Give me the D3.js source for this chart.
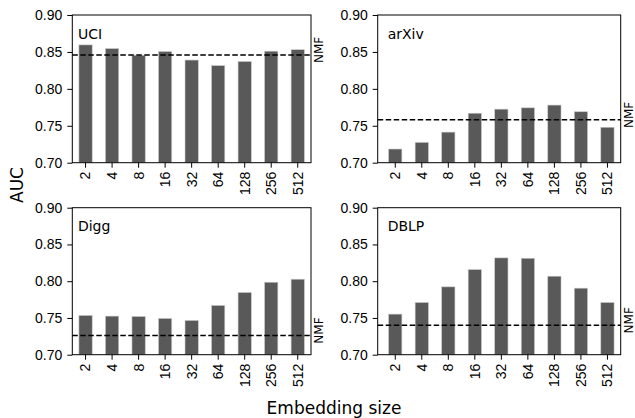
<!DOCTYPE html>
<html lang="en">
<head>
    <meta charset="UTF-8">
    <title>AUC vs embedding size</title>
    <style>
        body { margin: 0; background: #fff; }
        svg { font-family: "DejaVu Sans", sans-serif; }
        .axis text { font-size: 14px; fill: #000; }
        .axis line, .axis path { stroke: #000; stroke-width: 1; }
    </style>
</head>
<body>
    <div id="graphic"></div>

    <script src="https://cdn.jsdelivr.net/npm/d3@7"></script>
    <script>
        // data
        var sizes = ["2", "4", "8", "16", "32", "64", "128", "256", "512"];
        var datasets = ["UCI", "arXiv", "Digg", "DBLP"];
        var uciAUC = [0.8595, 0.8545, 0.8455, 0.8505, 0.839, 0.8315, 0.837, 0.851, 0.853];
        var arxivAUC = [0.7185, 0.7275, 0.7414, 0.767, 0.7725, 0.7743, 0.778, 0.769, 0.748];
        var diggAUC = [0.7534, 0.7525, 0.752, 0.7493, 0.7466, 0.767, 0.7846, 0.7986, 0.8027];
        var dblpAUC = [0.7552, 0.771, 0.7923, 0.8158, 0.8317, 0.8312, 0.8068, 0.7905, 0.771];
        var nmfAUC = [0.846, 0.758, 0.726, 0.740];
        var yTicks = [0.70, 0.75, 0.80, 0.85, 0.90];

        var width = 635;
        var height = 418;

        var svg = d3.select('#graphic')
            .append('svg')
            .attr('width', width)
            .attr('height', height);

        // panel boxes (left, right, top, bottom, where the bars start)
        var panels = [
            {name: datasets[0], values: uciAUC,   nmf: nmfAUC[0], x0: 72.3,  x1: 311,   bx0: 72.3,  y0: 15,    y1: 162.7},
            {name: datasets[1], values: arxivAUC, nmf: nmfAUC[1], x0: 377.7, x1: 620.7, bx0: 382,   y0: 15,    y1: 162.7},
            {name: datasets[2], values: diggAUC,  nmf: nmfAUC[2], x0: 72.3,  x1: 311,   bx0: 72.3,  y0: 207.7, y1: 354.7},
            {name: datasets[3], values: dblpAUC,  nmf: nmfAUC[3], x0: 377.7, x1: 620.7, bx0: 382,   y0: 207.7, y1: 354.7}
        ];

        panels.forEach(function(p) {
            var x = d3.scaleBand().domain(sizes).range([p.bx0, p.x1]).paddingInner(0.5).paddingOuter(0.25);
            var y = d3.scaleLinear().domain([0.70, 0.90]).range([p.y1, p.y0]);

            var g = svg.append('g');

            g.selectAll('rect.bar')
                .data(p.values)
                .join('rect')
                .attr('class', 'bar')
                .attr('x', function(d, i) { return x(sizes[i]); })
                .attr('width', x.bandwidth())
                .attr('y', function(d) { return y(d); })
                .attr('height', function(d) { return y(0.70) - y(d); })
                .attr('fill', '#595959')
                .attr('stroke', '#c8c8c8')
                .attr('stroke-width', 0.6);

            // NMF baseline
            g.append('line')
                .attr('x1', p.x0).attr('x2', p.x1)
                .attr('y1', y(p.nmf)).attr('y2', y(p.nmf))
                .attr('stroke', '#000')
                .attr('stroke-width', 1.5)
                .attr('stroke-dasharray', '5.5,2.5');

            g.append('text')
                .attr('transform', 'translate(' + (p.x1 + 8) + ',' + (y(p.nmf) - 5) + ') rotate(-90)')
                .attr('text-anchor', 'middle')
                .attr('dy', '0.35em')
                .attr('font-size', 12)
                .text('NMF');

            // frame
            g.append('rect')
                .attr('x', p.x0).attr('y', p.y0)
                .attr('width', p.x1 - p.x0).attr('height', p.y1 - p.y0)
                .attr('fill', 'none')
                .attr('stroke', '#000')
                .attr('stroke-width', 1);

            g.append('g')
                .attr('class', 'axis')
                .attr('transform', 'translate(' + p.x0 + ',0)')
                .call(d3.axisLeft(y).tickValues(yTicks).tickFormat(d3.format('.2f')).tickSize(5).tickPadding(5))
                .call(function(a) { a.select('.domain').remove(); });

            g.append('g')
                .attr('class', 'axis')
                .attr('transform', 'translate(0,' + p.y1 + ')')
                .call(d3.axisBottom(x).tickSize(5).tickSizeOuter(0))
                .call(function(a) { a.select('.domain').remove(); })
                .selectAll('text')
                .attr('transform', 'rotate(-90)')
                .attr('x', -9)
                .attr('y', 0)
                .attr('dy', '0.35em')
                .attr('text-anchor', 'end');

            g.append('text')
                .attr('x', x(sizes[0]) - 1)
                .attr('y', y(0.868))
                .attr('font-size', 14)
                .text(p.name);
        });

        svg.append('text')
            .attr('transform', 'translate(17,185) rotate(-90)')
            .attr('text-anchor', 'middle')
            .attr('dy', '0.35em')
            .attr('font-size', 17)
            .text('AUC');

        svg.append('text')
            .attr('x', 334)
            .attr('y', 414)
            .attr('text-anchor', 'middle')
            .attr('font-size', 17)
            .text('Embedding size');
    </script>
</body>
</html>
